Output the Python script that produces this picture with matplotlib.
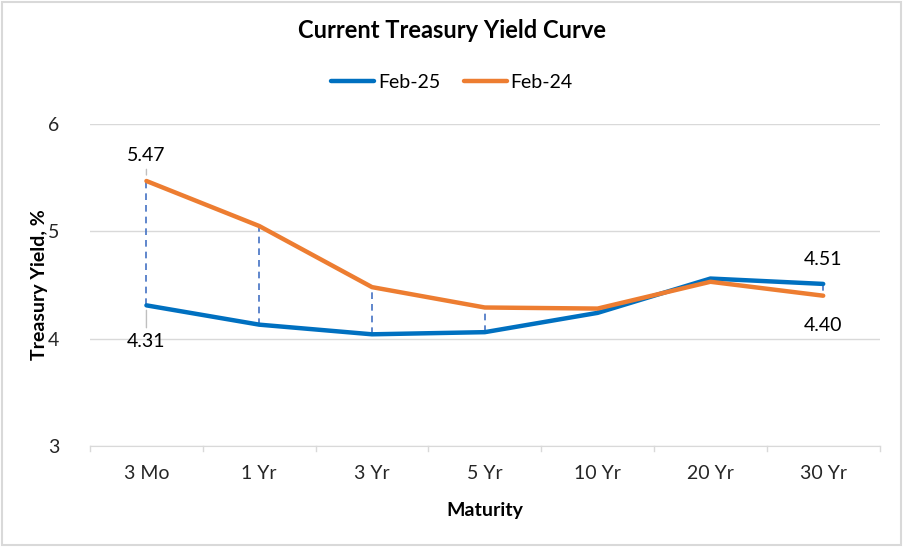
import matplotlib.pyplot as plt
from matplotlib.patches import Rectangle

plt.rcParams['font.family'] = ['Lato', 'DejaVu Sans']

maturities = ['3 Mo', '1 Yr', '3 Yr', '5 Yr', '10 Yr', '20 Yr', '30 Yr']
feb25 = [4.31, 4.13, 4.04, 4.06, 4.24, 4.56, 4.51]
feb24 = [5.47, 5.05, 4.48, 4.29, 4.28, 4.53, 4.40]

blue = '#0070c0'
orange = '#ed7d31'

fig = plt.figure(figsize=(9.04, 5.47), dpi=100)
ax = fig.add_axes([0.0996, 0.185, 0.8734, 0.588])
x = list(range(len(maturities)))

# high-low drop lines between the two series
for i in x:
    ax.plot([i, i], [feb25[i], feb24[i]], color='#4472c4', lw=1.2,
            ls=(0, (4, 3)), zorder=2)

ax.plot(x, feb25, color=blue, lw=3.2, label='Feb-25', zorder=3,
        solid_capstyle='round', solid_joinstyle='round')
ax.plot(x, feb24, color=orange, lw=3.2, label='Feb-24', zorder=3,
        solid_capstyle='round', solid_joinstyle='round')

ax.set_xlim(-0.5, 6.5)
ax.set_ylim(3, 6)
ax.set_yticks([3, 4, 5, 6])
ax.set_xticks(x)
ax.set_xticklabels(maturities)
ax.grid(axis='y', color='#d9d9d9', lw=1)
ax.set_axisbelow(True)
for s in ['top', 'right', 'left']:
    ax.spines[s].set_visible(False)
ax.spines['bottom'].set_color('#d9d9d9')
ax.tick_params(axis='both', length=0, labelsize=14, colors='#262626')
ax.tick_params(axis='x', pad=14)
ax.tick_params(axis='y', pad=22)
# category tick separators
for i in range(len(maturities) + 1):
    ax.plot([i - 0.5, i - 0.5], [3, 2.95], color='#d9d9d9', lw=1,
            clip_on=False)

ax.set_xlabel('Maturity', fontsize=14, fontweight='bold', labelpad=14)
ax.set_ylabel('Treasury Yield, %', fontsize=14, fontweight='bold', labelpad=0)

# data labels
ax.annotate(f'{feb24[0]:.2f}', xy=(0, feb24[0] + 0.03), xytext=(0, 5.71),
            ha='center', va='center', fontsize=14,
            arrowprops=dict(arrowstyle='-', color='#bfbfbf', lw=1))
ax.annotate(f'{feb25[0]:.2f}', xy=(0, feb25[0] - 0.02), xytext=(0, 3.97),
            ha='center', va='center', fontsize=14,
            arrowprops=dict(arrowstyle='-', color='#bfbfbf', lw=1))
ax.text(6, 4.74, f'{feb25[6]:.2f}', ha='center', va='center', fontsize=14)
ax.text(6, 4.12, f'{feb24[6]:.2f}', ha='center', va='center', fontsize=14)

fig.suptitle('Current Treasury Yield Curve', y=0.965, fontsize=17,
             fontweight='bold')
fig.legend(loc='center', bbox_to_anchor=(0.5, 0.85), ncol=2, frameon=False,
           fontsize=14, handlelength=2.2, columnspacing=1.2, handletextpad=0.2)

fig.patches.append(Rectangle((0.002, 0.003), 0.995, 0.993,
                             transform=fig.transFigure, fill=False,
                             edgecolor='#d9d9d9', lw=1.5))

fig.savefig('out.png', dpi=100)
